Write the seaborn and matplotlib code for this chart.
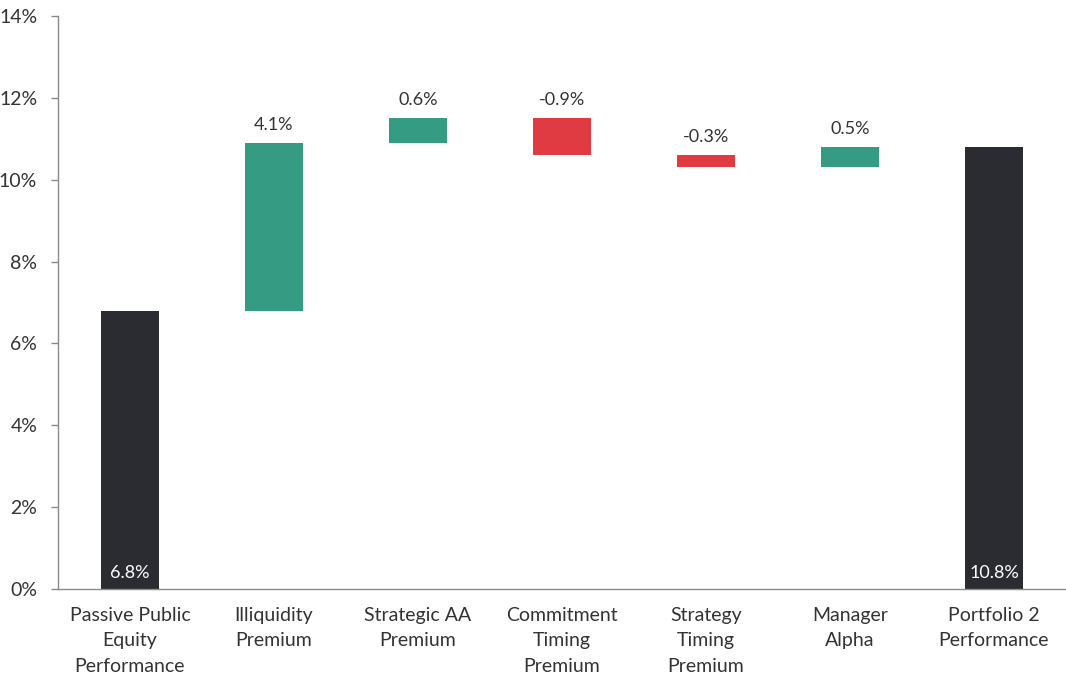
"""Waterfall chart of portfolio performance attribution."""
import numpy as np
import pandas as pd
import matplotlib
matplotlib.use("Agg")
import matplotlib.pyplot as plt
import seaborn as sns
from matplotlib.ticker import FuncFormatter, FixedLocator

categories = ["Passive Public\nEquity\nPerformance", "Illiquidity\nPremium",
              "Strategic AA\nPremium", "Commitment\nTiming\nPremium",
              "Strategy\nTiming\nPremium", "Manager\nAlpha",
              "Portfolio 2\nPerformance"]
steps = [6.8, 4.1, 0.6, -0.9, -0.3, 0.5]
kinds = ["total", "step", "step", "step", "step", "step", "total"]

DARK = "#2b2c31"
GREEN = "#359c83"
RED = "#e03a42"
TEXT = "#333333"
SPINE = "#8a8a8a"

sns.set_theme(style="white")
plt.rcParams["font.family"] = ["Lato", "DejaVu Sans"]

# bases y alturas de cada barra
cum = np.cumsum(steps)
final = cum[-1]
bottoms = [0.0] + [c - s if s >= 0 else c for c, s in zip(cum[1:], steps[1:])] + [0.0]
heights = [steps[0]] + [abs(s) for s in steps[1:]] + [final]
df = pd.DataFrame({"cat": categories, "height": heights, "bottom": bottoms})

fig = plt.figure(figsize=(10.66, 6.83), dpi=100)
ax = fig.add_axes([58 / 1066, 94 / 683, 1 - 58 / 1066, 573 / 683])

sns.barplot(data=df, x="cat", y="height", bottom=df["bottom"].values,
            width=0.4, color=DARK, ax=ax, saturation=1)

for i, p in enumerate(ax.patches):
    if kinds[i] == "total":
        p.set_facecolor(DARK)
    elif steps[i] >= 0:
        p.set_facecolor(GREEN)
    else:
        p.set_facecolor(RED)
    p.set_edgecolor("none")

# etiquetas de valor
for i, p in enumerate(ax.patches):
    xc = p.get_x() + p.get_width() / 2
    if kinds[i] == "total":
        val = steps[0] if i == 0 else final
        ax.text(xc, 0.2, f"{val:.1f}%", ha="center", va="bottom",
                color="white", fontsize=13)
    else:
        top = p.get_y() + p.get_height()
        ax.text(xc, top + 0.25, f"{steps[i]:.1f}%", ha="center", va="bottom",
                color=TEXT, fontsize=13)

ax.set_xlim(-0.5, len(categories) - 0.5)
ax.set_ylim(0, 14)
ax.set_yticks(np.arange(0, 15, 2))
ax.yaxis.set_major_formatter(FuncFormatter(lambda v, _: f"{v:.0f}%"))
ax.set_xlabel("")
ax.set_ylabel("")

for lab in ax.get_xticklabels():
    lab.set_linespacing(1.6)

ax.xaxis.set_minor_locator(FixedLocator(np.arange(-0.5, len(categories), 1.0)))
ax.tick_params(axis="x", which="major", length=0, pad=13, labelsize=14, labelcolor=TEXT)
ax.tick_params(axis="x", which="minor", length=5, width=1, color=SPINE, direction="out")
ax.tick_params(axis="y", which="major", length=5, width=1, color=SPINE, direction="out",
               left=True, labelsize=14, labelcolor=TEXT, pad=10)

for side in ["top", "right"]:
    ax.spines[side].set_visible(False)
for side in ["left", "bottom"]:
    ax.spines[side].set_color(SPINE)
    ax.spines[side].set_linewidth(1)

fig.savefig("out.png", dpi=100)
